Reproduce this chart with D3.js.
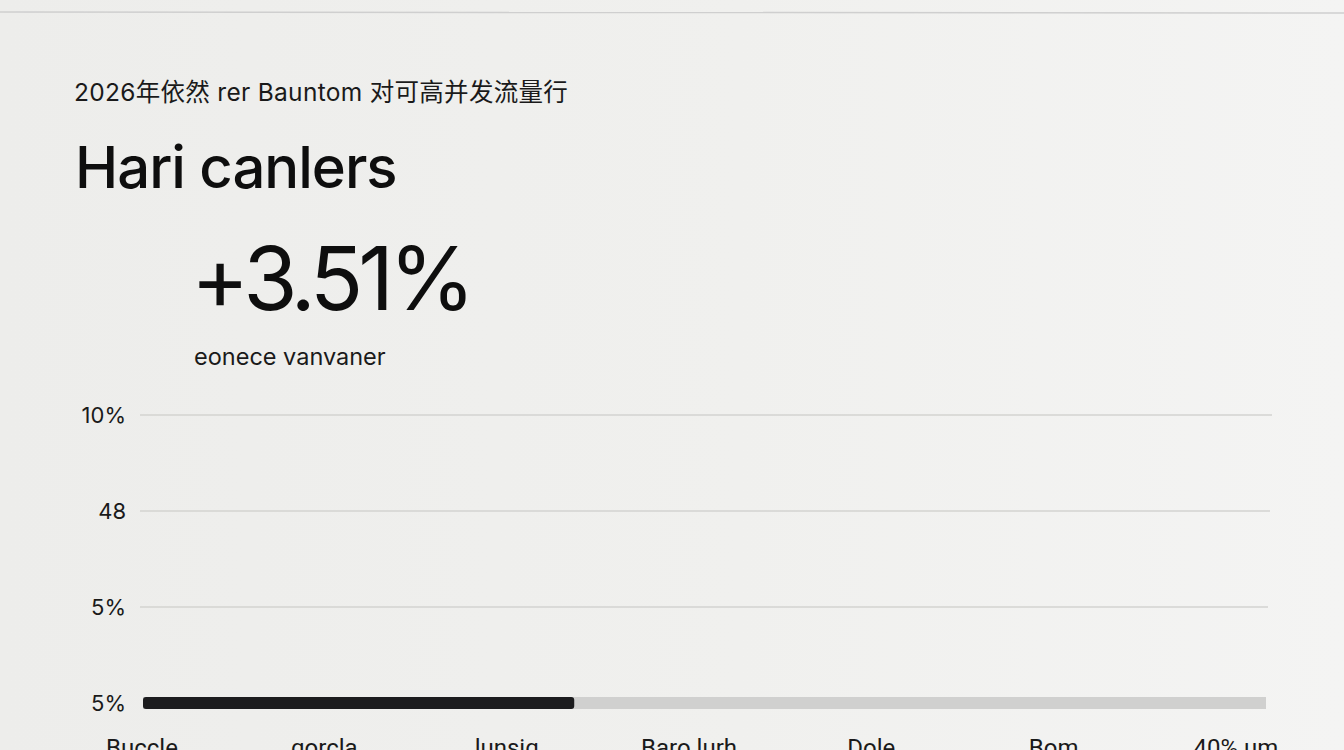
<!DOCTYPE html>
<html>
<head>
<meta charset="utf-8">
<script src="https://cdn.jsdelivr.net/npm/d3@7"></script>
<style>
  html, body { margin: 0; padding: 0; background: #eeeeec; overflow: hidden; }
  svg { display: block; }
</style>
</head>
<body>
<svg id="chart"></svg>
<script>
// chart values
var subtitle = '2026年依然 rer Bauntom 对可高并发流量行';
var title = 'Hari canlers';
var headline = '+3.51%';
var caption = 'eonece vanvaner';
var yTickLabels = ['10%', '48', '5%', '5%'];
var categories = ['Buccle', 'gorcla', 'lunsig', 'Baro lurh', 'Dole', 'Bom', '40% um'];
var progressValue = 38.4;
var progressMax = 100;

var W = 1344, H = 750;
var svg = d3.select('#chart')
            .attr('width', W)
            .attr('height', H);

var bg = svg.append('defs').append('linearGradient')
            .attr('id', 'bg')
            .attr('x1', 0).attr('x2', 1).attr('y1', 0).attr('y2', 0);
bg.append('stop').attr('offset', '0%').attr('stop-color', '#ededeb');
bg.append('stop').attr('offset', '55%').attr('stop-color', '#f0f0ee');
bg.append('stop').attr('offset', '100%').attr('stop-color', '#f4f4f3');
svg.append('rect')
   .attr('width', W).attr('height', H)
   .attr('fill', 'url(#bg)');

// thin line at the top of the screen
svg.append('line')
   .attr('x1', 0).attr('x2', W)
   .attr('y1', 12).attr('y2', 13)
   .attr('stroke', '#cfcfcf')
   .attr('stroke-width', 1.5);

// header texts
svg.append('text')
   .text(subtitle)
   .attr('x', 74).attr('y', 101)
   .attr('font-family', 'Inter, "Noto Sans CJK SC", sans-serif')
   .attr('font-size', '24.5px')
   .attr('letter-spacing', '0.3px')
   .attr('fill', '#1a1a1a');

svg.append('text')
   .text(title)
   .attr('x', 75).attr('y', 188)
   .attr('font-family', 'Inter, sans-serif')
   .attr('font-size', '58px')
   .attr('font-weight', 500)
   .attr('letter-spacing', '-1px')
   .attr('fill', '#0e0e0e');

svg.append('text')
   .text(headline)
   .attr('x', 191).attr('y', 310)
   .attr('font-family', 'Inter, sans-serif')
   .attr('font-size', '88px')
   .attr('letter-spacing', '-5px')
   .attr('fill', '#0e0e0e');

svg.append('text')
   .text(caption)
   .attr('x', 194).attr('y', 365)
   .attr('font-family', 'Inter, sans-serif')
   .attr('font-size', '23.5px')
   .attr('fill', '#1a1a1a');

// scales
var y = d3.scaleLinear()
          .domain([0, yTickLabels.length - 1])
          .range([415, 703]);
var xBar = d3.scaleLinear()
             .domain([0, progressMax])
             .range([143, 1266]);
var xCat = d3.scalePoint()
             .domain(categories)
             .range([142, 1236]);

// gridlines (all rows but the last, which holds the bar)
svg.selectAll('line.grid')
   .data(yTickLabels.slice(0, -1))
   .enter()
   .append('line')
   .attr('class', 'grid')
   .attr('x1', 140)
   .attr('x2', (d,i) => 1272 - i*2)
   .attr('y1', (d,i) => y(i))
   .attr('y2', (d,i) => y(i))
   .attr('stroke', '#d3d3d1')
   .attr('stroke-width', 1.5);

// y tick labels
svg.selectAll('text.ytick')
   .data(yTickLabels)
   .enter()
   .append('text')
   .attr('class', 'ytick')
   .text(d => d)
   .attr('x', 126)
   .attr('y', (d,i) => y(i))
   .attr('text-anchor', 'end')
   .attr('dominant-baseline', 'central')
   .attr('font-family', 'Inter, sans-serif')
   .attr('font-size', '22px')
   .attr('fill', '#1a1a1a');

// progress track + value bar
var barY = y(yTickLabels.length - 1);
svg.append('rect')
   .attr('x', xBar(0))
   .attr('y', barY - 6)
   .attr('width', xBar(progressMax) - xBar(0))
   .attr('height', 12)
   .attr('fill', '#d0d0cf');
svg.append('rect')
   .attr('x', xBar(0))
   .attr('y', barY - 6)
   .attr('width', xBar(progressValue) - xBar(0))
   .attr('height', 12)
   .attr('rx', 3)
   .attr('fill', '#1c1c1e');

// category labels (cut by the bottom edge, as in the photo)
svg.selectAll('text.xcat')
   .data(categories)
   .enter()
   .append('text')
   .attr('class', 'xcat')
   .text(d => d)
   .attr('x', d => xCat(d))
   .attr('y', 756)
   .attr('text-anchor', 'middle')
   .attr('font-family', 'Roboto, sans-serif')
   .attr('font-size', '24px')
   .attr('fill', '#1a1a1a');
</script>
</body>
</html>
